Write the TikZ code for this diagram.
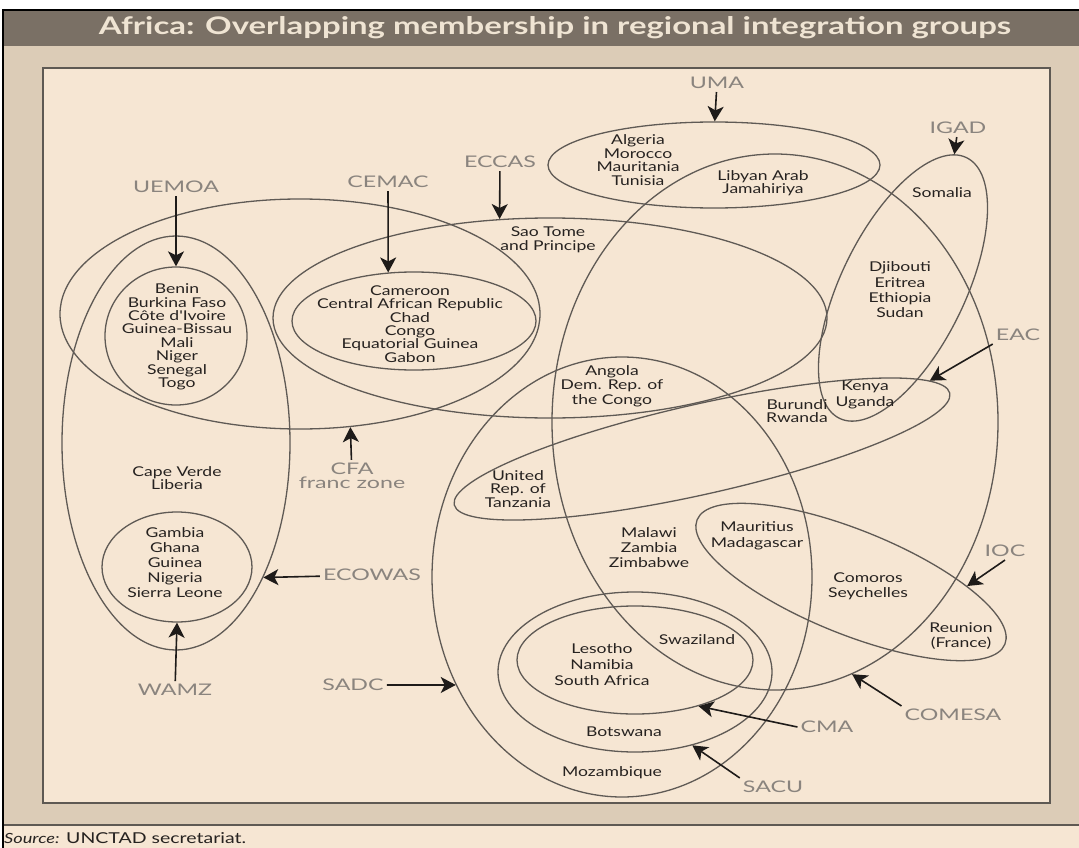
\documentclass[tikz,border=0pt]{standalone}
\usepackage{fontspec}
\usepackage{graphicx}
\setmainfont{Lato}
\newfontfamily\ctyfont[FakeStretch=1.3]{Lato}
\newfontfamily\grpfont[FakeStretch=1.45]{Lato}
\usetikzlibrary{shapes.geometric,arrows.meta}
\definecolor{band}{HTML}{DCCCB7}
\definecolor{ttlbar}{HTML}{7A7065}
\definecolor{ttltxt}{HTML}{EFE4D3}
\definecolor{boxbg}{HTML}{F6E6D3}
\definecolor{boxline}{HTML}{5E5953}
\definecolor{ellcol}{HTML}{5F5A55}
\definecolor{grpcol}{HTML}{8A847E}
\definecolor{ctycol}{HTML}{262220}
\definecolor{arrcol}{HTML}{1E1B19}
\tikzset{
  ell/.style={ellipse, draw=ellcol, line width=1.3pt, inner sep=0pt},
  cty/.style={font=\ctyfont\fontsize{13.5}{#1}\selectfont, text=ctycol, align=center, inner sep=0pt},
  cty/.default=13.4,
  grp/.style={font=\grpfont\fontsize{16}{14}\selectfont, text=grpcol, align=center, inner sep=3pt},
  arr/.style={draw=arrcol, line width=1.6pt, -{Stealth[length=15pt,width=16pt,inset=4pt]}},
  srcstyle/.style={font=\ctyfont\fontsize{15}{15}\selectfont, text=ctycol, inner sep=0pt, anchor=west}
}
\begin{document}
\begin{tikzpicture}[x=1pt,y=-1pt]
\useasboundingbox (0,0) rectangle (1079,848);
\fill[white] (0,0) rectangle (1079,848);
% frame
\fill[band] (3,10) rectangle (1079,848);
\fill[ttlbar] (3,10) rectangle (1079,46);
\draw[boxline, line width=2.5pt, fill=boxbg] (43,68) rectangle (1050,803);
\fill[boxbg] (3,826) rectangle (1079,848);
\draw[boxline, line width=1.5pt] (3,825) -- (1079,825);
\draw[black, line width=1.5pt] (3,848) -- (3,10) -- (1079,10);
\node[text=ttltxt, inner sep=0pt] (title) at (555,28) {\resizebox{912pt}{18pt}{\bfseries Africa: Overlapping membership in regional integration groups}};
\node[srcstyle, font=\ctyfont\fontsize{14}{15}\selectfont\itshape] (src) at (4,838) {Source:};
\node[srcstyle] (unctad) at (66,838) {UNCTAD secretariat.};

% group ellipses
\node[ell, minimum width=480, minimum height=230] (cfa) at (300,314) {};
\node[ell, minimum width=228, minimum height=414] (ecowas) at (176,443) {};
\node[ell, minimum width=142, minimum height=138] (uemoa) at (176,336) {};
\node[ell, minimum width=150, minimum height=110] (wamz) at (177,567) {};
\node[ell, minimum width=244, minimum height=98] (cemac) at (414,321) {};
\node[ell, minimum width=554, minimum height=200] (eccas) at (550,318) {};
\node[ell, minimum width=332, minimum height=86] (uma) at (714,165) {};
\node[ell, minimum width=446, minimum height=536] (comesa) at (775,422) {};
\node[ell, minimum width=290, minimum height=124, rotate=64] (igad) at (903,288) {};
\node[ell, minimum width=508, minimum height=90, rotate=12.7] (eac) at (702,449) {};
\node[ell, minimum width=380, minimum height=440] (sadc) at (622,577) {};
\node[ell, minimum width=274, minimum height=160] (sacu) at (635,672) {};
\node[ell, minimum width=236, minimum height=108] (cma) at (635,660) {};
\node[ell, minimum width=332, minimum height=104, rotate=-22] (ioc) at (851,582) {};

% member countries
\node[cty] (t_uemoa) at (177,337) {Benin\\Burkina Faso\\Côte d'Ivoire\\Guinea-Bissau\\Mali\\Niger\\Senegal\\Togo};
\node[cty] (t_cemac) at (410,324) {Cameroon\\Central African Republic\\Chad\\Congo\\Equatorial Guinea\\Gabon};
\node[cty=14] (t_stp) at (548,240) {Sao Tome\\and Principe};
\node[cty] (t_uma) at (638,160) {Algeria\\Morocco\\Mauritania\\Tunisia};
\node[cty=12.5] (t_lib) at (763,183) {Libyan Arab\\Jamahiriya};
\node[cty] (t_som) at (942,193) {Somalia};
\node[cty=15.3] (t_djb) at (900,290) {Djibouti\\Eritrea\\Ethiopia\\Sudan};
\node[cty=16] (t_ken) at (865,395) {Kenya\\Uganda};
\node[cty=12.5] (t_bur) at (797,411) {Burundi\\Rwanda};
\node[cty=14.5] (t_ang) at (612,386) {Angola\\Dem. Rep. of\\the Congo};
\node[cty=13.5] (t_tan) at (518,489) {United\\Rep. of\\Tanzania};
\node[cty=15] (t_mal) at (649,548) {Malawi\\Zambia\\Zimbabwe};
\node[cty=16] (t_mau) at (757,536) {Mauritius\\Madagascar};
\node[cty=15] (t_com) at (868,586) {Comoros\\Seychelles};
\node[cty=15] (t_reu) at (961,636) {Reunion\\(France)};
\node[cty] (t_swa) at (697,640) {Swaziland};
\node[cty=16] (t_les) at (602,665) {Lesotho\\Namibia\\South Africa};
\node[cty] (t_bot) at (624,732) {Botswana};
\node[cty] (t_moz) at (612,773) {Mozambique};
\node[cty=12.5] (t_cvl) at (177,478) {Cape Verde\\Liberia};
\node[cty=15] (t_wamz) at (175,563) {Gambia\\Ghana\\Guinea\\Nigeria\\Sierra Leone};

% group labels
\node[grp] (l_uemoa) at (176,187) {UEMOA};
\node[grp] (l_cemac) at (388,182) {CEMAC};
\node[grp] (l_eccas) at (500,162) {ECCAS};
\node[grp] (l_uma) at (717,83) {UMA};
\node[grp] (l_igad) at (958,128) {IGAD};
\node[grp] (l_eac) at (1018,335) {EAC};
\node[grp] (l_ioc) at (1005,551) {IOC};
\node[grp] (l_comesa) at (953,715) {COMESA};
\node[grp] (l_cma) at (827,727) {CMA};
\node[grp] (l_sacu) at (773,787) {SACU};
\node[grp] (l_sadc) at (353,685) {SADC};
\node[grp] (l_wamz) at (175,690) {WAMZ};
\node[grp] (l_ecowas) at (372,575) {ECOWAS};
\node[grp] (l_cfa) at (352,476) {CFA\\franc zone};

% arrows
\draw[arr] (l_uemoa) -- (uemoa.north);
\draw[arr] (l_cemac) -- (cemac.118);
\draw[arr] (l_eccas) -- (eccas.117);
\draw[arr] (l_uma) -- (uma.89);
\draw[arr] (l_igad) -- (igad.5);
\draw[arr] (l_eac.south west) -- (eac.4);
\draw[arr] (l_ioc.south) -- (ioc.20);
\draw[arr] (l_comesa.north west) -- (comesa.287);
\draw[arr] (l_cma.west) -- (cma.324);
\draw[arr] (l_sacu.north west) -- (sacu.308);
\draw[arr] (l_sadc) -- (sadc.213);
\draw[arr] (l_wamz) -- (wamz.south);
\draw[arr] (l_ecowas) -- (ecowas.303);
\draw[arr] (l_cfa) -- (cfa.294);
\end{tikzpicture}
\end{document}
